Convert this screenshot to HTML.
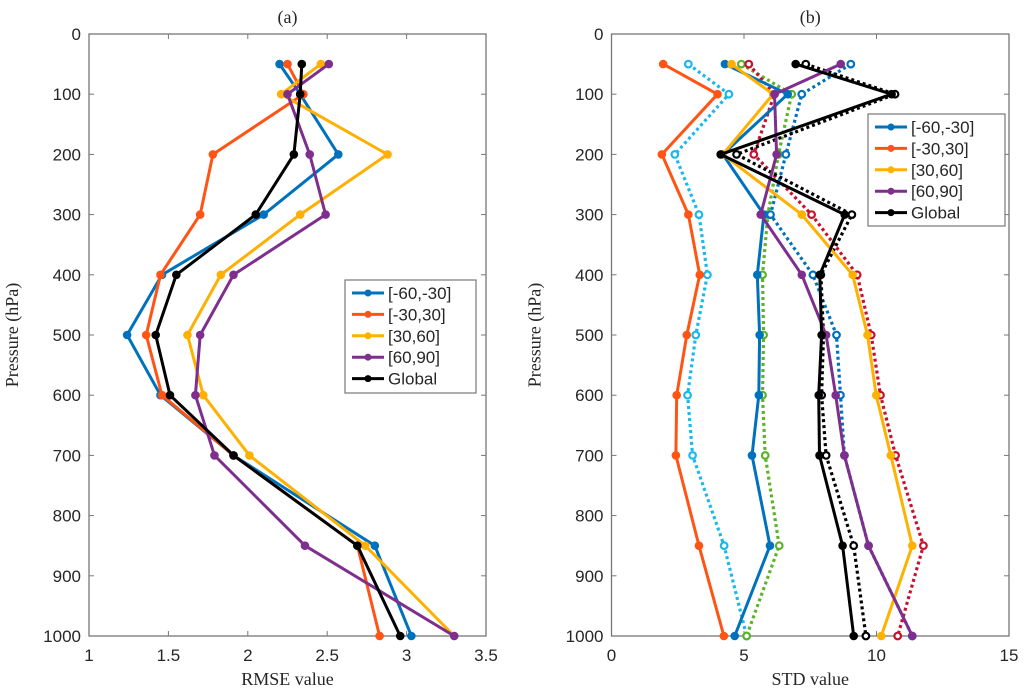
<!DOCTYPE html>
<html><head><meta charset="utf-8"><style>
body{margin:0;background:#fff;}
svg{display:block;font-family:"Liberation Sans",sans-serif;}
.tk{font-size:17px;fill:#262626;}
.sf{font-family:"Liberation Serif",serif;font-size:18px;fill:#262626;}
</style></head><body>
<svg id="chart" width="1024" height="692" viewBox="0 0 1024 692" xmlns="http://www.w3.org/2000/svg"></svg>
<script>
const levels=[50,100,200,300,400,500,600,700,850,1000];
const seriesNames=["[-60,-30]","[-30,30]","[30,60]","[60,90]","Global"];
const rmseS1=[2.20,2.33,2.57,2.10,1.46,1.24,1.45,1.91,2.80,3.03];
const rmseS2=[2.25,2.35,1.78,1.70,1.45,1.36,1.46,1.91,2.69,2.83];
const rmseS3=[2.46,2.21,2.88,2.33,1.83,1.62,1.72,2.01,2.74,3.30];
const rmseS4=[2.51,2.25,2.39,2.49,1.91,1.70,1.67,1.79,2.36,3.30];
const rmseG=[2.34,2.33,2.29,2.05,1.55,1.42,1.51,1.91,2.69,2.96];
const stdS1=[4.28,6.65,4.2,5.75,5.5,5.59,5.56,5.3,5.98,4.65];
const stdS2=[1.95,4.0,1.9,2.9,3.33,2.84,2.46,2.43,3.3,4.24];
const stdS3=[4.53,6.1,4.2,7.18,9.1,9.66,9.99,10.54,11.35,10.18];
const stdS4=[8.65,6.15,6.23,5.63,7.18,8.1,8.46,8.79,9.7,11.35];
const stdG=[6.95,10.57,4.12,8.8,7.86,7.93,7.82,7.85,8.72,9.14];
const stdD1=[4.9,6.8,6.3,5.9,5.7,5.74,5.7,5.8,6.33,5.1];
const stdD2=[2.9,4.43,2.39,3.3,3.62,3.18,2.87,3.06,4.25,5.1];
const stdD3=[5.18,6.15,5.37,7.55,9.27,9.8,10.15,10.72,11.77,10.8];
const stdD4=[9.03,7.18,6.58,6.0,7.6,8.49,8.64,8.79,9.7,11.35];
const stdDG=[7.33,10.7,4.72,9.07,7.9,8.0,7.93,8.1,9.14,9.6];
const rmseTicks=["1","1.5","2","2.5","3","3.5"];
const stdTicks=["0","5","10","15"];
const yTicks=["0","100","200","300","400","500","600","700","800","900","1000"];

const NS="http://www.w3.org/2000/svg";
const svg=document.getElementById('chart');
const C={b:"#0072BD",o:"#FF5414",y:"#FFB000",p:"#7E2F8E",k:"#000",c:"#1AB8EC",g:"#5CB32A",r:"#C8102E"};
function el(t,a,p){const e=document.createElementNS(NS,t);for(const k in a)e.setAttribute(k,a[k]);(p||svg).appendChild(e);return e;}
const Y0=34,Y1=636;
function yS(p){return Y0+(p/1000)*(Y1-Y0);}
function makeAxis(x0,x1,vmin,vmax,ticks,title,xl,name){
  const g=el('g',{});
  const xs=v=>x0+(v-vmin)/(vmax-vmin)*(x1-x0);
  el('rect',{x:x0,y:Y0,width:x1-x0,height:Y1-Y0,fill:'none',stroke:'#777','stroke-width':1.3},g);
  ticks.forEach(t=>{const v=parseFloat(t),x=xs(v);
    el('line',{x1:x,x2:x,y1:Y1,y2:Y1-5,stroke:'#777'},g);el('line',{x1:x,x2:x,y1:Y0,y2:Y0+5,stroke:'#777'},g);
    const tx=el('text',{x:x,y:661,'text-anchor':'middle',class:'tk'},g);tx.textContent=t;
    });
  yTicks.forEach(t=>{const y=yS(parseFloat(t));
    el('line',{x1:x0,x2:x0+5,y1:y,y2:y,stroke:'#777'},g);el('line',{x1:x1,x2:x1-5,y1:y,y2:y,stroke:'#777'},g);
    const tx=el('text',{x:x0-8,y:y+6,'text-anchor':'end',class:'tk'},g);tx.textContent=t;
    });
  const tt=el('text',{x:(x0+x1)/2,y:23,'text-anchor':'middle',class:'sf'},g);tt.textContent=title;
  
  const xt=el('text',{x:(x0+x1)/2,y:685,'text-anchor':'middle',class:'sf'},g);xt.textContent=xl;
  
  const yt=el('text',{x:0,y:0,'text-anchor':'middle',class:'sf',transform:`translate(${x0-71},${(Y0+Y1)/2}) rotate(-90)`},g);yt.textContent="Pressure (hPa)";
  
  return xs;
}
function series(xs,vals,col,dotted,name){
  const g=el('g',{});
  const pts=vals.map((v,i)=>xs(v).toFixed(1)+','+yS(levels[i]).toFixed(1)).join(' ');
  const a={points:pts,fill:'none',stroke:col,'stroke-width':dotted?3.2:3,'stroke-linejoin':'round'};
  if(dotted){a['stroke-dasharray']='3 3';}
  el('polyline',a,g);
  vals.forEach((v,i)=>{const m=el('circle',{cx:xs(v),cy:yS(levels[i]),r:dotted?3.3:3.8,fill:dotted?'#fff':col,stroke:col,'stroke-width':dotted?2.2:1},g);
    });
}
function legend(x,y,w,h,cols,name){
  const g=el('g',{});
  el('rect',{x:x,y:y,width:w,height:h,fill:'#fff',stroke:'#777','stroke-width':1.2},g);
  seriesNames.forEach((n,i)=>{const yy=y+13+i*21.4;
    const e=el('g',{},g);
    el('line',{x1:x+7,x2:x+39,y1:yy,y2:yy,stroke:cols[i],'stroke-width':3},e);
    el('circle',{cx:x+23,cy:yy,r:3.5,fill:cols[i]},e);
    const t=el('text',{x:x+43,y:yy+6,class:'tk'},e);t.textContent=n;});
}
const cols=[C.b,C.o,C.y,C.p,C.k];
const xa=makeAxis(89,486,1,3.5,rmseTicks,"(a)","RMSE value","rmse-panel");
[rmseS1,rmseS2,rmseS3,rmseS4,rmseG].forEach((s,i)=>series(xa,s,cols[i],false,'rmse-line-'+i));
legend(345,280,131,113,cols,'rmse-legend');
const xb=makeAxis(611.5,1009,0,15,stdTicks,"(b)","STD value","std-panel");
[[stdD2,C.c],[stdD1,C.g],[stdD3,C.r],[stdD4,C.b],[stdDG,C.k]].forEach((s,i)=>series(xb,s[0],s[1],true,'std-dotted-line-'+i));
[stdS1,stdS2,stdS3,stdS4,stdG].forEach((s,i)=>series(xb,s,cols[i],false,'std-line-'+i));
legend(868,114,137,112,cols,'std-legend');
</script>
</body></html>
